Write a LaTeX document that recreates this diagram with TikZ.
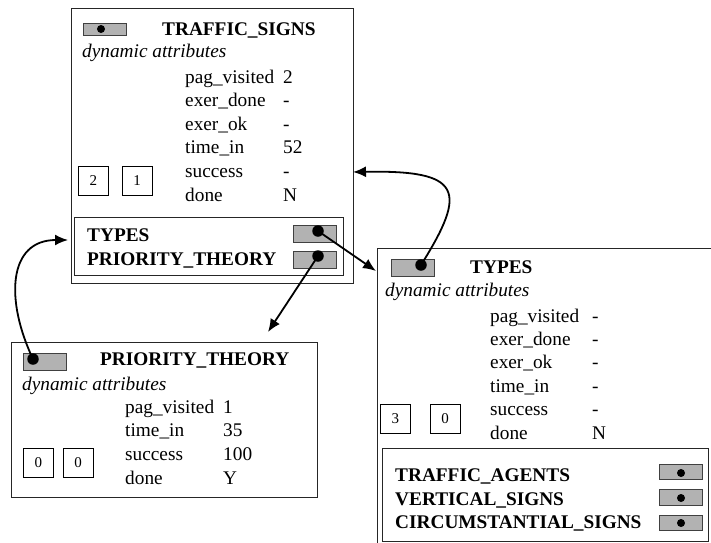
\documentclass[tikz,border=0pt]{standalone}
\usepackage{fontspec}
\setmainfont{Liberation Serif}
\usetikzlibrary{arrows.meta, positioning}

\begin{document}
\begin{tikzpicture} [x=1pt, y=-1pt,
		% define styles
		framestyle/.style={
			% The shape:
			rectangle,
			% The border:
			draw=black!85,
			line width=0.9pt,
			% Placement
			anchor=north west,
			inner sep=0pt
		},
		pointerstyle/.style={
			% The shape:
			rectangle,
			% The size:
			minimum width=43pt,
			minimum height=17pt,
			% The border:
			draw=black!75,
			line width=0.9pt,
			% The filling:
			fill=black!30,
			anchor=north west,
			inner sep=0pt
		},
		dotstyle/.style={
			circle,
			fill=black,
			inner sep=0pt,
			minimum size=8pt
		},
		bigdotstyle/.style={
			dotstyle,
			minimum size=11.5pt
		},
		countstyle/.style={
			rectangle,
			minimum width=30pt,
			minimum height=29pt,
			draw=black,
			line width=0.8pt,
			anchor=north west,
			inner sep=0pt,
			% Font
			font=\fontsize{15}{15}\selectfont
		},
		titlestyle/.style={
			anchor=base west,
			inner sep=0pt,
			font=\fontsize{19.3}{23}\selectfont\bfseries
		},
		dynstyle/.style={
			anchor=base west,
			inner sep=0pt,
			font=\fontsize{19.3}{23}\selectfont\itshape
		},
		attrstyle/.style={
			anchor=base west,
			inner sep=0pt,
			font=\fontsize{19.3}{23}\selectfont
		},
		arrow/.style={
			->,
			% Thickness
			line width=1.8pt,
			>={Latex[length=13pt, width=11pt]},
			% Color
			black
		}]
		% end of style definition

		\useasboundingbox (0,0) rectangle (711,542);

		% TRAFFIC_SIGNS page
		\node (signsbox) [framestyle, minimum width=282pt, minimum height=275pt] at (71,8) {};
		\node (signshead) [pointerstyle, minimum height=12pt] at (83,23) {};
		\node (signsheaddot) [dotstyle] at (101,29) {};
		\node (signstitle) [titlestyle] at (162,35) {TRAFFIC\_SIGNS};
		\node (signsdyn) [dynstyle] at (82,57) {dynamic attributes};
		\node (signsa1) [attrstyle] at (185,83) {pag\_visited};
		\node (signsa2) [attrstyle] at (185,106.6) {exer\_done};
		\node (signsa3) [attrstyle] at (185,130.2) {exer\_ok};
		\node (signsa4) [attrstyle] at (185,153.8) {time\_in};
		\node (signsa5) [attrstyle] at (185,177.4) {success};
		\node (signsa6) [attrstyle] at (185,201) {done};
		\node (signsv1) [attrstyle] at (283,83) {2};
		\node (signsv2) [attrstyle] at (283,106.6) {-};
		\node (signsv3) [attrstyle] at (283,130.2) {-};
		\node (signsv4) [attrstyle] at (283,153.8) {52};
		\node (signsv5) [attrstyle] at (283,177.4) {-};
		\node (signsv6) [attrstyle] at (283,201) {N};
		\node (signscnt1) [countstyle] at (78,166) {2};
		\node (signscnt2) [countstyle, right=13pt of signscnt1] {1};
		\node (signslinks) [framestyle, minimum width=269pt, minimum height=58pt] at (74,217) {};
		\node (signstypes) [titlestyle] at (87,241) {TYPES};
		\node (signsprio) [titlestyle] at (87,265) {PRIORITY\_THEORY};
		\node (signstypesptr) [pointerstyle] at (293,225) {};
		\node (signsprioptr) [pointerstyle] at (293,251) {};
		\node (signstypesdot) [bigdotstyle] at (318,231) {};
		\node (signspriodot) [bigdotstyle] at (318,256) {};

		% PRIORITY_THEORY page
		\node (priobox) [framestyle, minimum width=306pt, minimum height=155pt] at (11,342) {};
		\node (priohead) [pointerstyle] at (23,353) {};
		\node (prioheaddot) [bigdotstyle] at (33,359) {};
		\node (priotitle) [titlestyle] at (100,365) {PRIORITY\_THEORY};
		\node (priodyn) [dynstyle] at (22,390) {dynamic attributes};
		\node (prioa1) [attrstyle] at (125,413) {pag\_visited};
		\node (prioa2) [attrstyle] at (125,436.7) {time\_in};
		\node (prioa3) [attrstyle] at (125,460.4) {success};
		\node (prioa4) [attrstyle] at (125,484) {done};
		\node (priov1) [attrstyle] at (223,413) {1};
		\node (priov2) [attrstyle] at (223,436.7) {35};
		\node (priov3) [attrstyle] at (223,460.4) {100};
		\node (priov4) [attrstyle] at (223,484) {Y};
		\node (priocnt1) [countstyle] at (23,448) {0};
		\node (priocnt2) [countstyle, right=9pt of priocnt1] {0};

		% TYPES page
		\node (typesbox) [framestyle, minimum width=340pt, minimum height=300pt] at (377,248) {};
		\node (typeshead) [pointerstyle] at (391,259) {};
		\node (typesheaddot) [bigdotstyle] at (421,265) {};
		\node (typestitle) [titlestyle] at (470,273) {TYPES};
		\node (typesdyn) [dynstyle] at (385,296) {dynamic attributes};
		\node (typesa1) [attrstyle] at (490,322) {pag\_visited};
		\node (typesa2) [attrstyle] at (490,345.4) {exer\_done};
		\node (typesa3) [attrstyle] at (490,368.8) {exer\_ok};
		\node (typesa4) [attrstyle] at (490,392.2) {time\_in};
		\node (typesa5) [attrstyle] at (490,415.6) {success};
		\node (typesa6) [attrstyle] at (490,439) {done};
		\node (typesv1) [attrstyle] at (592,322) {-};
		\node (typesv2) [attrstyle] at (592,345.4) {-};
		\node (typesv3) [attrstyle] at (592,368.8) {-};
		\node (typesv4) [attrstyle] at (592,392.2) {-};
		\node (typesv5) [attrstyle] at (592,415.6) {-};
		\node (typesv6) [attrstyle] at (592,439) {N};
		\node (typescnt1) [countstyle] at (380,404) {3};
		\node (typescnt2) [countstyle, right=19pt of typescnt1] {0};
		\node (typeslinks) [framestyle, minimum width=326pt, minimum height=93pt] at (382,448) {};
		\node (typesagents) [titlestyle] at (395,481) {TRAFFIC\_AGENTS};
		\node (typesvert) [titlestyle] at (395,505) {VERTICAL\_SIGNS};
		\node (typescirc) [titlestyle] at (395,528) {CIRCUMSTANTIAL\_SIGNS};
		\node (typesagentsptr) [pointerstyle, minimum height=15pt] at (659,464) {};
		\node (typesvertptr) [pointerstyle, minimum height=16pt] at (659,489) {};
		\node (typescircptr) [pointerstyle, minimum height=15pt] at (659,515) {};
		\node (typesagentsdot) [dotstyle] at (681,473) {};
		\node (typesvertdot) [dotstyle] at (681,498) {};
		\node (typescircdot) [dotstyle] at (681,523) {};

		% arrow ends
		\coordinate (typesentry) at (376,271);
		\coordinate (prioentry) at (268,332);
		\coordinate (signsentry) at (353,172);
		\coordinate (signslinksentry) at (68,240);

		% connect nodes
		\draw [arrow] (signstypesdot.center) -- (typesentry);
		\draw [arrow] (signspriodot.center) -- (prioentry);
		\draw [arrow] (typesheaddot.center) .. controls (468,190) and (462,170) .. (signsentry);
		\draw [arrow] (prioheaddot.center) .. controls (5,300) and (8,240) .. (signslinksentry);
	\end{tikzpicture}
\end{document}
